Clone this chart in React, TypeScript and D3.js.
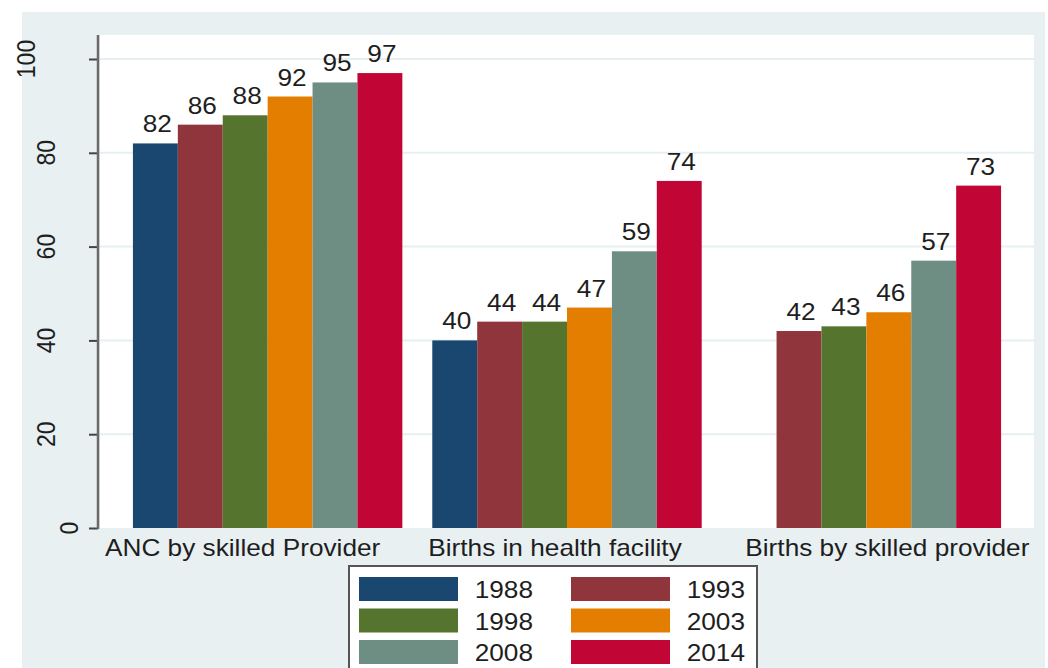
import { useEffect, useRef } from "react";
import * as d3 from "d3";

// chart data
const categories = [
  "ANC by skilled Provider",
  "Births in health facility",
  "Births by skilled provider",
];
const years = ["1988", "1993", "1998", "2003", "2008", "2014"];
const v1988: (number | null)[] = [82, 40, null];
const v1993: (number | null)[] = [86, 44, 42];
const v1998: (number | null)[] = [88, 44, 43];
const v2003: (number | null)[] = [92, 47, 46];
const v2008: (number | null)[] = [95, 59, 57];
const v2014: (number | null)[] = [97, 74, 73];
const yTicks = [0, 20, 40, 60, 80, 100];

const series = [v1988, v1993, v1998, v2003, v2008, v2014];
const colors = ["#1A476F", "#90353B", "#55752F", "#E37E00", "#6E8E84", "#C10534"];

// layout tweaks
const catNudge = [-25, -12, 21];
const yLabelX: Record<number, number> = { 100: 35, 0: 78 };
const SX = 1.14; // text in the source is stretched horizontally
const FONT = "'Liberation Sans', Arial, sans-serif";
const INK = "#1e1e1e";

export default function App() {
  const ref = useRef<SVGSVGElement | null>(null);

  useEffect(() => {
    const width = 1048,
      height = 668;
    const plot = { left: 100, right: 1034, top: 35, bottom: 528 };
    const svg = d3.select(ref.current);
    svg.selectAll("*").remove();
    svg.attr("font-family", FONT);

    // backgrounds
    svg.append("rect").attr("width", width).attr("height", height).attr("fill", "#fff");
    svg
      .append("rect")
      .attr("x", 22)
      .attr("y", 12)
      .attr("width", 1045 - 22)
      .attr("height", height - 12)
      .attr("fill", "#E8F0F2");
    svg
      .append("rect")
      .attr("x", plot.left)
      .attr("y", plot.top)
      .attr("width", plot.right - plot.left)
      .attr("height", plot.bottom - plot.top)
      .attr("fill", "#fff");

    const y = d3.scaleLinear().domain([0, 100]).range([plot.bottom, 59]);
    const x0 = d3
      .scaleBand()
      .domain(categories)
      .range([plot.left, plot.right])
      .paddingInner(0.1)
      .paddingOuter(0.11);
    const x1 = d3.scaleBand().domain(years).range([0, x0.bandwidth()]);

    // gridlines
    svg
      .append("g")
      .selectAll("line")
      .data(yTicks.filter(t => t > 0))
      .enter()
      .append("line")
      .attr("x1", plot.left)
      .attr("x2", plot.right)
      .attr("y1", d => y(d))
      .attr("y2", d => y(d))
      .attr("stroke", "#E6EFF1")
      .attr("stroke-width", 2);

    // bars
    const flat = categories.flatMap((c, ci) =>
      years.map((yr, si) => ({ c, yr, si, v: series[si][ci] }))
    ).filter(d => d.v != null) as { c: string; yr: string; si: number; v: number }[];

    svg
      .append("g")
      .selectAll("rect")
      .data(flat)
      .enter()
      .append("rect")
      .attr("x", d => x0(d.c)! + x1(d.yr)!)
      .attr("y", d => y(d.v))
      .attr("width", x1.bandwidth())
      .attr("height", d => y(0) - y(d.v))
      .attr("fill", d => colors[d.si]);

    // value labels
    svg
      .append("g")
      .selectAll("text")
      .data(flat)
      .enter()
      .append("text")
      .attr(
        "transform",
        d => `translate(${x0(d.c)! + x1(d.yr)! + x1.bandwidth() / 2 + 2},${y(d.v) - 11}) scale(${SX},1)`
      )
      .attr("text-anchor", "middle")
      .attr("font-size", 23)
      .attr("fill", INK)
      .text(d => d.v);

    // y axis
    const axis = svg
      .append("g")
      .attr("transform", `translate(98,0)`)
      .call(d3.axisLeft(y).tickValues(yTicks).tickSize(9).tickFormat(() => ""));
    axis.select(".domain").remove();
    axis.selectAll(".tick line").attr("stroke", "#444").attr("stroke-width", 2);
    svg
      .append("line")
      .attr("x1", 98)
      .attr("x2", 98)
      .attr("y1", plot.top)
      .attr("y2", plot.bottom + 1)
      .attr("stroke", "#6a6a6a")
      .attr("stroke-width", 2.5);

    svg
      .append("g")
      .selectAll("text")
      .data(yTicks)
      .enter()
      .append("text")
      .attr("transform", d => `translate(${yLabelX[d] ?? 55},${y(d)}) scale(${SX},1) rotate(-90)`)
      .attr("text-anchor", "middle")
      .attr("font-size", 23)
      .attr("fill", INK)
      .text(d => d);

    // category labels
    svg
      .append("g")
      .selectAll("text")
      .data(categories)
      .enter()
      .append("text")
      .attr("transform", (d, i) => `translate(${x0(d)! + x0.bandwidth() / 2 + catNudge[i]},556) scale(${SX},1)`)
      .attr("text-anchor", "middle")
      .attr("font-size", 23)
      .attr("fill", INK)
      .text(d => d);

    // legend
    const lg = svg.append("g");
    lg.append("rect")
      .attr("x", 349)
      .attr("y", 566)
      .attr("width", 757 - 349)
      .attr("height", 130)
      .attr("fill", "#fff")
      .attr("stroke", "#555")
      .attr("stroke-width", 2);
    const items = lg
      .selectAll("g")
      .data(years)
      .enter()
      .append("g")
      .attr("transform", (_, i) => `translate(${i % 2 === 0 ? 359 : 571},${577 + Math.floor(i / 2) * 31.5})`);
    items
      .append("rect")
      .attr("width", 99)
      .attr("height", 24)
      .attr("fill", (_, i) => colors[i]);
    items
      .append("text")
      .attr("transform", `translate(174,21) scale(${SX},1)`)
      .attr("text-anchor", "end")
      .attr("font-size", 23)
      .attr("fill", INK)
      .text(d => d);
  }, []);

  return (
    <svg
      ref={ref}
      width={1048}
      height={668}
      style={{ position: "absolute", left: 0, top: 0, display: "block" }}
    />
  );
}
